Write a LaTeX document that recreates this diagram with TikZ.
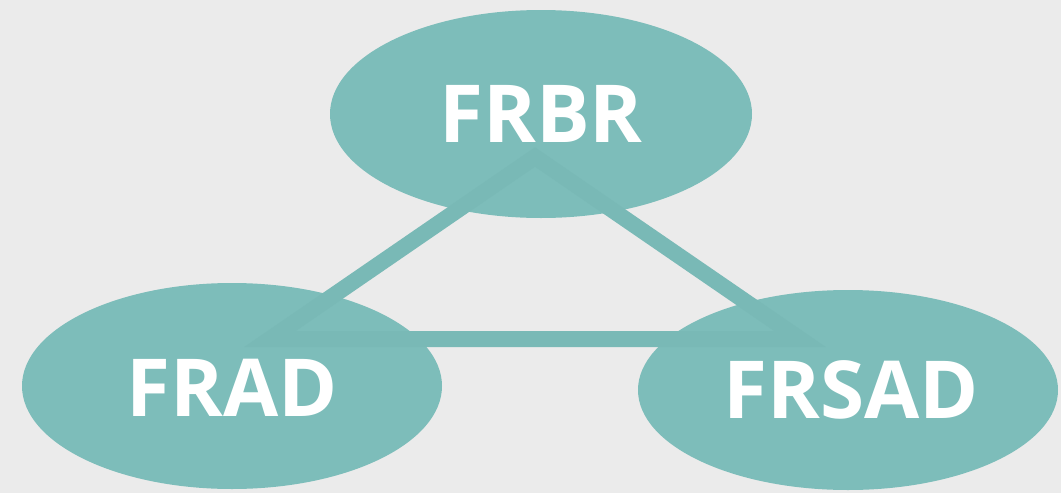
\documentclass[tikz,border=0pt]{standalone}
\usepackage{fontspec}
\setmainfont{Open Sans}
\usetikzlibrary{shapes.geometric}
\definecolor{bg}{HTML}{EBEBEB}
\definecolor{teal}{HTML}{7DBDBA}
\definecolor{tealline}{HTML}{79B9B6}
\tikzset{
  ell/.style={ellipse, fill=teal, draw=none, inner sep=0pt},
  lbl/.style={text=white, font=\fontsize{80}{90}\selectfont\bfseries, inner sep=0pt},
  tri/.style={draw=tealline, line width=16pt, line join=miter}
}
\begin{document}
\begin{tikzpicture}[x=1pt,y=-1pt]
\fill[bg] (0,0) rectangle (1061,493);
\useasboundingbox (0,0) rectangle (1061,493);
\node[ell, minimum width=422pt, minimum height=208pt] (frbr) at (541,114) {};
\node[ell, minimum width=420pt, minimum height=206pt] (frad) at (232,386) {};
\node[ell, minimum width=420pt, minimum height=200pt] (frsad) at (848,390) {};
\coordinate (ta) at (535,157);
\coordinate (tl) at (270,339);
\coordinate (tr) at (800,339);
\draw[tri] (ta) -- (tl) -- (tr) -- cycle;
\node[lbl] (tfrbr) at (frbr.center) {FRBR};
\node[lbl] (tfrad) at (232,388) {FRAD};
\node[lbl] (tfrsad) at (851,390) {FRSAD};
\end{tikzpicture}
\end{document}
